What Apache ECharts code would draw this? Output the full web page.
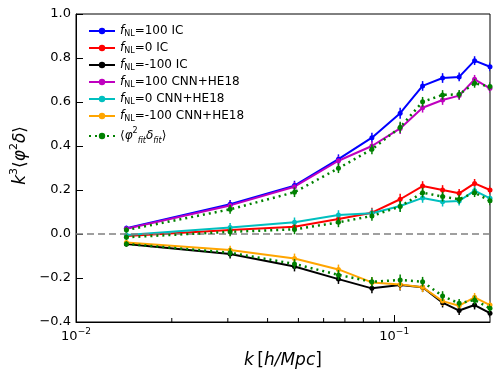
<!DOCTYPE html>
<html>
<head>
<meta charset="utf-8">
<script src="https://cdn.jsdelivr.net/npm/echarts@6/dist/echarts.min.js"></script>
<style>
  html, body { margin: 0; padding: 0; background: #fff; }
  #chart { width: 498px; height: 374px; }
</style>
</head>
<body>
<div id="chart"></div>
<script>
// k bins [h/Mpc]
const kValues = [0.0144, 0.0305, 0.0486, 0.0668, 0.0851, 0.1044, 0.1228, 0.1419, 0.160, 0.1789, 0.2];

// k^3 <phi^2 delta>
const ic100 = [0.026, 0.135, 0.220, 0.340, 0.438, 0.549, 0.673, 0.709, 0.714, 0.788, 0.760];
const ic0 = [-0.009, 0.018, 0.033, 0.068, 0.097, 0.158, 0.218, 0.200, 0.185, 0.230, 0.200];
const icm100 = [-0.045, -0.091, -0.148, -0.205, -0.247, -0.232, -0.242, -0.312, -0.348, -0.323, -0.360];
const cnn100 = [0.024, 0.130, 0.215, 0.333, 0.400, 0.480, 0.574, 0.609, 0.629, 0.703, 0.662];
const cnn0 = [-0.005, 0.030, 0.053, 0.086, 0.094, 0.127, 0.164, 0.147, 0.150, 0.197, 0.162];
const cnnm100 = [-0.039, -0.073, -0.111, -0.161, -0.220, -0.229, -0.242, -0.305, -0.326, -0.288, -0.323];
const fit100 = [0.018, 0.112, 0.190, 0.299, 0.385, 0.485, 0.601, 0.632, 0.635, 0.685, 0.670];
const fit0 = [-0.015, 0.010, 0.021, 0.053, 0.082, 0.125, 0.188, 0.170, 0.158, 0.188, 0.151];
const fitm100 = [-0.045, -0.085, -0.136, -0.186, -0.217, -0.209, -0.217, -0.282, -0.315, -0.300, -0.338];

// error bar half-heights
const errBars = [0.012, 0.02, 0.022, 0.022, 0.022, 0.025, 0.022, 0.022, 0.02, 0.02, 0.02];

const minorTicks = [0.02, 0.03, 0.04, 0.05, 0.06, 0.07, 0.08, 0.09];
const yTicks = { min: -0.4, max: 1.0, interval: 0.2 };

const FIT_NAME = "fit";
const lines = [
  { name: "100 IC", data: ic100, color: "#0000ff" },
  { name: "0 IC", data: ic0, color: "#ff0000" },
  { name: "-100 IC", data: icm100, color: "#000000" },
  { name: "100 CNN+HE18", data: cnn100, color: "#bf00bf" },
  { name: "0 CNN+HE18", data: cnn0, color: "#00bfbf" },
  { name: "-100 CNN+HE18", data: cnnm100, color: "#ffa500" },
  { name: FIT_NAME, data: fit100, color: "#008000", dotted: true },
  { name: FIT_NAME, data: fit0, color: "#008000", dotted: true },
  { name: FIT_NAME, data: fitm100, color: "#008000", dotted: true }
];

const font = "DejaVu Sans";
const chart = echarts.init(document.getElementById("chart"));

function errorSeries(line, z) {
  return {
    type: "custom",
    z: z,
    silent: true,
    clip: true,
    data: kValues.map((k, i) => [k, line.data[i], errBars[i]]),
    renderItem(params, api) {
      const k = api.value(0), y = api.value(1), e = api.value(2);
      const lo = api.coord([k, y - e]);
      const hi = api.coord([k, y + e]);
      return {
        type: "line",
        shape: { x1: lo[0], y1: lo[1], x2: hi[0], y2: hi[1] },
        style: { stroke: line.color, lineWidth: 1.5 }
      };
    }
  };
}

const series = [];
lines.forEach((line, idx) => {
  const z = line.dotted ? 5 : 3;
  series.push({
    name: line.name,
    type: "line",
    z: z,
    clip: true,
    data: kValues.map((k, i) => [k, line.data[i]]),
    symbol: "circle",
    symbolSize: 5,
    showSymbol: true,
    color: line.color,
    itemStyle: { color: line.color },
    lineStyle: {
      color: line.color,
      width: line.dotted ? 2.5 : 2,
      type: line.dotted ? [2, 4] : "solid"
    },
    animation: false,
    markLine: idx === 0 ? {
      silent: true,
      symbol: "none",
      label: { show: false },
      lineStyle: { color: "#808080", type: [7, 4], width: 1.5 },
      data: [{ yAxis: 0 }]
    } : undefined
  });
  series.push(errorSeries(line, z));
});

// minor ticks of the log axis, drawn inward from the bottom spine
series.push({
  type: "custom",
  silent: true,
  z: 6,
  data: minorTicks.map(k => [k, yTicks.min]),
  renderItem(params, api) {
    const p = api.coord([api.value(0), api.value(1)]);
    return {
      type: "line",
      shape: { x1: p[0], y1: p[1], x2: p[0], y2: p[1] - 4 },
      style: { stroke: "#000", lineWidth: 1 }
    };
  }
});

const legendRich = {
  t: { fontFamily: font, fontSize: 12, color: "#000", lineHeight: 14 },
  i: { fontFamily: font, fontSize: 12, fontStyle: "italic", color: "#000", lineHeight: 14 },
  sub: { fontFamily: font, fontSize: 8, color: "#000", verticalAlign: "bottom", lineHeight: 10 },
  isub: { fontFamily: font, fontSize: 8, fontStyle: "italic", color: "#000", verticalAlign: "bottom", lineHeight: 10 },
  sup: { fontFamily: font, fontSize: 8, color: "#000", verticalAlign: "top", lineHeight: 18 }
};

chart.setOption({
  backgroundColor: "#fff",
  animation: false,
  grid: {
    left: 76, right: 8, top: 14, bottom: 52,
    containLabel: false,
    outerBoundsMode: "none",
    show: true, borderColor: "#000", borderWidth: 1
  },
  legend: {
    orient: "vertical",
    left: 83, top: 20,
    itemWidth: 26, itemHeight: 8, itemGap: 4,
    data: ["100 IC", "0 IC", "-100 IC", "100 CNN+HE18", "0 CNN+HE18", "-100 CNN+HE18", FIT_NAME],
    formatter(name) {
      if (name === FIT_NAME) {
        return "{t|⟨}{i|φ}{sup|2}{isub|fit}{i|δ}{isub|fit}{t|⟩}";
      }
      return "{i|f}{sub|NL}{t|=" + name + "}";
    },
    textStyle: { rich: legendRich }
  },
  xAxis: {
    type: "log",
    logBase: 10,
    min: 0.01,
    max: 0.2,
    interval: 1,
    name: "{i|k} {t|[}{i|h/Mpc}{t|]}",
    nameLocation: "middle",
    nameGap: 30,
    nameTextStyle: {
      rich: {
        i: { fontFamily: font, fontSize: 17, fontStyle: "italic", color: "#000" },
        t: { fontFamily: font, fontSize: 17, color: "#000" }
      }
    },
    axisLine: { onZero: false, lineStyle: { color: "#000", width: 1 } },
    axisTick: { inside: true, length: 7, lineStyle: { color: "#000" } },
    splitLine: { show: false },
    minorTick: { show: false },
    axisLabel: {
      margin: 5,
      showMaxLabel: false,
      formatter(v) {
        const e = Math.round(Math.log10(v));
        return "{b|10}{s|" + (e < 0 ? "−" + (-e) : e) + "}";
      },
      rich: {
        b: { fontFamily: font, fontSize: 13, color: "#000", verticalAlign: "bottom", lineHeight: 16 },
        s: { fontFamily: font, fontSize: 9, color: "#000", verticalAlign: "top", lineHeight: 16 }
      }
    }
  },
  yAxis: {
    type: "value",
    min: yTicks.min,
    max: yTicks.max,
    interval: yTicks.interval,
    axisLine: { show: true, lineStyle: { color: "#000", width: 1 } },
    axisTick: { show: true, inside: true, length: 7, lineStyle: { color: "#000" } },
    splitLine: { show: false },
    axisLabel: {
      margin: 5,
      fontFamily: font,
      fontSize: 13,
      color: "#000",
      formatter: v => (v < 0 ? "−" : "") + Math.abs(v).toFixed(1)
    }
  },
  graphic: [{
    type: "text",
    left: 9,
    top: 126,
    rotation: Math.PI / 2,
    style: {
      text: "{i|k}{s|3}{t|⟨}{i|φ}{s|2}{i|δ}{t|⟩}",
      rich: {
        i: { fontFamily: font, fontSize: 17, fontStyle: "italic", fill: "#000", verticalAlign: "bottom", lineHeight: 20 },
        t: { fontFamily: font, fontSize: 17, fill: "#000", verticalAlign: "bottom", lineHeight: 20 },
        s: { fontFamily: font, fontSize: 11, fill: "#000", verticalAlign: "top", lineHeight: 20 }
      }
    }
  }],
  series: series
});
</script>
</body>
</html>
